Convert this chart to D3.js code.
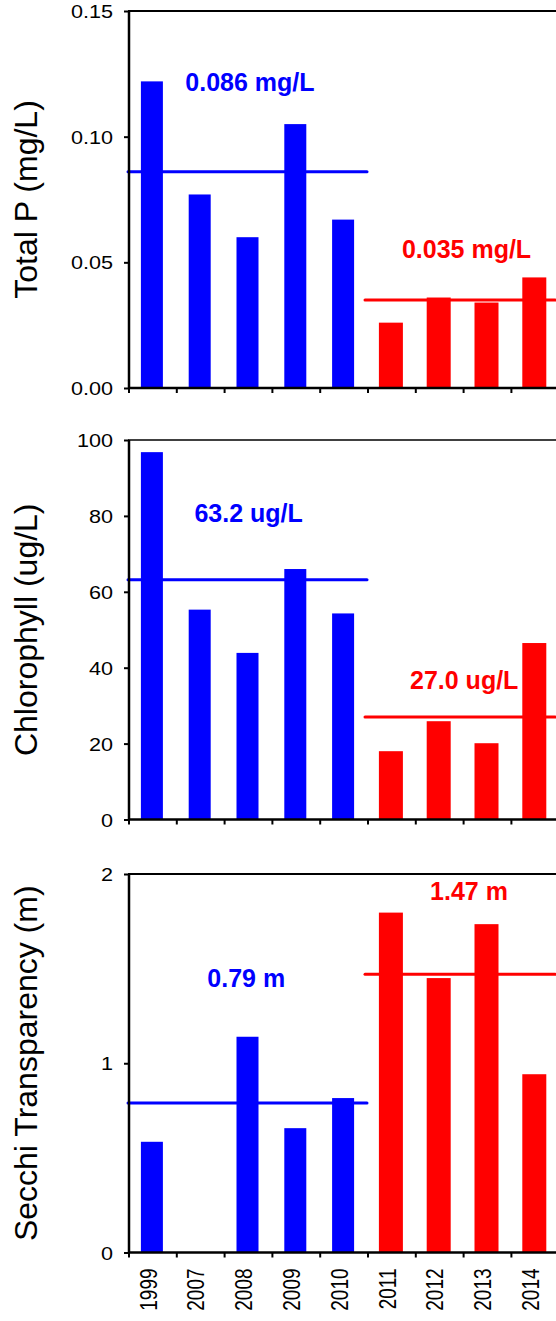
<!DOCTYPE html>
<html>
<head>
<meta charset="utf-8">
<script src="https://cdn.jsdelivr.net/npm/d3@7"></script>
<style>
  html, body { margin: 0; padding: 0; background: #fff; }
  svg { display: block; }
  text { font-family: "Liberation Sans", Arial, sans-serif; }
</style>
</head>
<body>
<svg id="chart" width="556" height="1321"></svg>
<script>
// Years sampled; the first five are the earlier period, the rest the later one
const years = ["1999", "2007", "2008", "2009", "2010", "2011", "2012", "2013", "2014"];
const period = [0, 0, 0, 0, 0, 1, 1, 1, 1];
const periodColors = ["#0000ff", "#ff0000"];

// Annual means
const totalP = [0.122, 0.077, 0.060, 0.105, 0.067, 0.026, 0.036, 0.034, 0.044];
const chlorophyll = [96.8, 55.3, 43.9, 66.0, 54.3, 18.0, 25.9, 20.1, 46.5];
const secchi = [0.585, null, 1.14, 0.657, 0.816, 1.796, 1.45, 1.735, 0.942];

// Period averages (earlier, later)
const totalPMeans = [0.086, 0.035];
const chlorophyllMeans = [63.2, 27.0];
const secchiMeans = [0.79, 1.47];
const totalPMeanLabels = ["0.086 mg/L", "0.035 mg/L"];
const chlorophyllMeanLabels = ["63.2 ug/L", "27.0 ug/L"];
const secchiMeanLabels = ["0.79 m", "1.47 m"];

// Where each period label sits: [category position, value]
const totalPLabelAt = [[1.2, 0.118], [5.73, 0.0517]];
const chlorophyllLabelAt = [[1.39, 78.4], [5.9, 34.3]];
const secchiLabelAt = [[1.66, 1.405], [6.32, 1.863]];

// Tick values
const totalPTicks = [0, 0.05, 0.10, 0.15];
const chlorophyllTicks = [0, 20, 40, 60, 80, 100];
const secchiTicks = [0, 1, 2];

const svg = d3.select("#chart");

const x = d3.scaleBand().domain(years).range([128, 128 + 47.8 * years.length]).padding(0);
const catPos = i => x.range()[0] + i * x.step();

const panels = [
  { title: "Total P (mg/L)", values: totalP, means: totalPMeans, meanLabels: totalPMeanLabels,
    labelAt: totalPLabelAt, domain: [0, 0.15], ticks: totalPTicks, fmt: d3.format(".2f"),
    top: 11, bottom: 388, frame: 2.2 },
  { title: "Chlorophyll (ug/L)", values: chlorophyll, means: chlorophyllMeans, meanLabels: chlorophyllMeanLabels,
    labelAt: chlorophyllLabelAt, domain: [0, 100], ticks: chlorophyllTicks, fmt: d3.format("d"),
    top: 440, bottom: 819.5, frame: 1.6 },
  { title: "Secchi Transparency (m)", values: secchi, means: secchiMeans, meanLabels: secchiMeanLabels,
    labelAt: secchiLabelAt, domain: [0, 2], ticks: secchiTicks, fmt: d3.format("d"),
    top: 874, bottom: 1252.5, frame: 2.2 }
];

panels.forEach((p, pi) => {
  const y = d3.scaleLinear().domain(p.domain).range([p.bottom, p.top]);
  const g = svg.append("g");

  // bars
  const rows = years.map((yr, i) => ({ yr, v: p.values[i], per: period[i] })).filter(d => d.v != null);
  g.selectAll("rect.bar").data(rows).join("rect")
    .attr("class", "bar")
    .attr("x", d => x(d.yr) + x.bandwidth() / 2 - (d.per ? 12 : 11))
    .attr("width", d => d.per ? 24 : 22)
    .attr("y", d => y(d.v))
    .attr("height", d => y(0) - y(d.v))
    .attr("fill", d => periodColors[d.per]);

  // period mean lines with their labels
  const spans = [[0, 5], [5, 9]];
  p.means.forEach((m, k) => {
    g.append("line")
      .attr("x1", catPos(spans[k][0]) + (k ? -2 : 0))
      .attr("x2", catPos(spans[k][1]) - (k ? 3 : 0))
      .attr("y1", y(m)).attr("y2", y(m))
      .attr("stroke", periodColors[k])
      .attr("stroke-width", 3)
      .attr("stroke-linecap", "round");
    g.append("text")
      .attr("x", catPos(p.labelAt[k][0]))
      .attr("y", y(p.labelAt[k][1]))
      .attr("fill", periodColors[k])
      .attr("font-size", 25)
      .attr("font-weight", "bold")
      .text(p.meanLabels[k]);
  });

  // top frame line
  g.append("line")
    .attr("x1", 128).attr("x2", 556)
    .attr("y1", p.top).attr("y2", p.top)
    .attr("stroke", "#000").attr("stroke-width", p.frame);

  // y axis
  const yAxis = d3.axisLeft(y).tickValues(p.ticks).tickFormat(p.fmt).tickSize(5).tickPadding(0);
  const ya = g.append("g").attr("transform", "translate(129,0)").call(yAxis);
  ya.select(".domain").attr("stroke-width", 2.5).attr("d", `M0,${p.top}V${p.bottom}`);
  ya.selectAll(".tick line").attr("stroke-width", 2);
  // tick labels are drawn slightly wide
  ya.selectAll(".tick text")
    .attr("font-size", 18).attr("fill", "#000")
    .attr("font-family", "'Liberation Sans', Arial, sans-serif")
    .attr("x", null).attr("dy", null)
    .attr("transform", "translate(-16,6.5) scale(1.2,1)");

  // x axis: ticks at category boundaries
  const xa = g.append("g").attr("transform", `translate(0,${p.bottom})`);
  xa.append("line").attr("x1", 128).attr("x2", 556).attr("y1", 0).attr("y2", 0)
    .attr("stroke", "#000").attr("stroke-width", 2.5);
  xa.selectAll("line.tk").data(d3.range(years.length + 1)).join("line")
    .attr("class", "tk")
    .attr("x1", i => catPos(i) + 1).attr("x2", i => catPos(i) + 1)
    .attr("y1", 0).attr("y2", 5)
    .attr("stroke", "#000").attr("stroke-width", 2);

  // axis title
  g.append("text")
    .attr("transform", `translate(37,${(p.top + p.bottom) / 2}) rotate(-90)`)
    .attr("text-anchor", "middle")
    .attr("font-size", 32)
    .text(p.title);

  // year labels under the last panel
  if (pi === panels.length - 1) {
    g.selectAll("text.yr").data(years).join("text")
      .attr("class", "yr")
      .attr("transform", d => `translate(${x(d) + x.bandwidth() / 2 - 4},${p.bottom + 16}) scale(1.3,1) rotate(-90)`)
      .attr("text-anchor", "end")
      .attr("dy", "0.35em")
      .attr("font-size", 19)
      .text(d => d);
  }
});
</script>
</body>
</html>
